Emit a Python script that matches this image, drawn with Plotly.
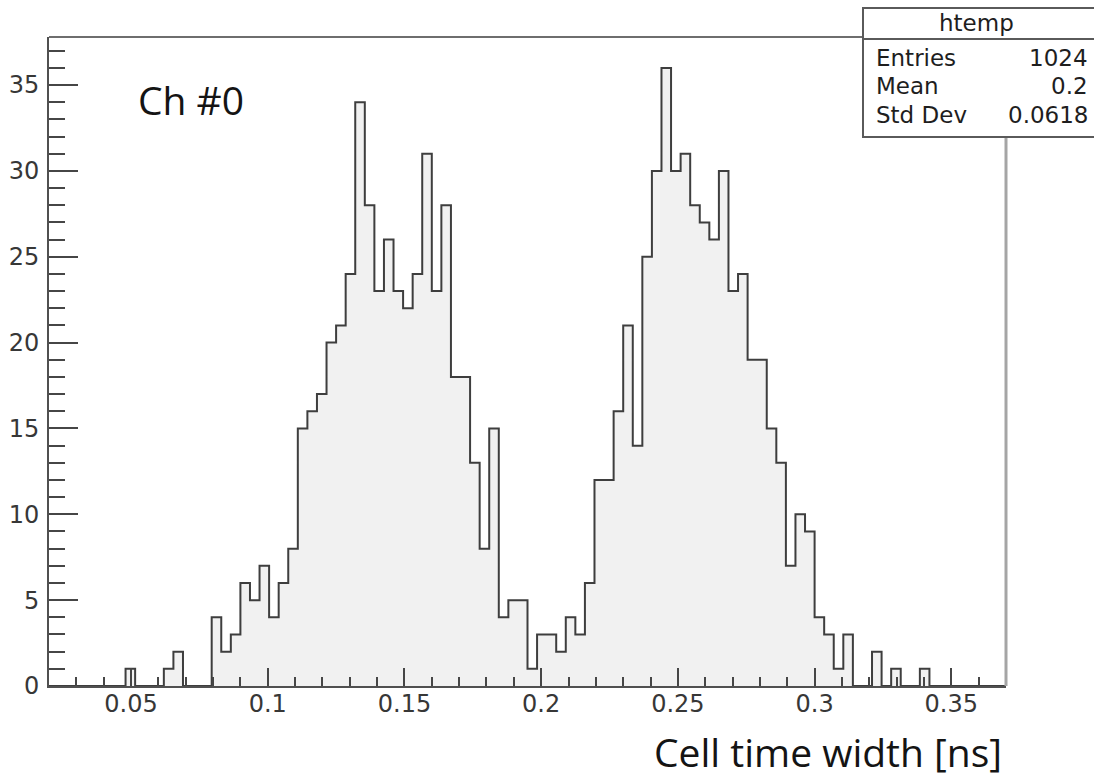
import plotly.graph_objects as go

# Histogram definition: 100 uniform bins on [0.02, 0.37]
x_min = 0.02
x_max = 0.37
n_bins = 100
bin_width = (x_max - x_min) / n_bins

# Bin contents (entries per bin)
counts = [
    0, 0, 0, 0, 0, 0, 0, 0, 1, 0,
    0, 0, 1, 2, 0, 0, 0, 4, 2, 3,
    6, 5, 7, 4, 6, 8, 15, 16, 17, 20,
    21, 24, 34, 28, 23, 26, 23, 22, 24, 31,
    23, 28, 18, 18, 13, 8, 15, 4, 5, 5,
    1, 3, 3, 2, 4, 3, 6, 12, 12, 16,
    21, 14, 25, 30, 36, 30, 31, 28, 27, 26,
    30, 23, 24, 19, 19, 15, 13, 7, 10, 9,
    4, 3, 1, 3, 0, 0, 2, 0, 1, 0,
    0, 1, 0, 0, 0, 0, 0, 0, 0, 0,
]

hist_name = "htemp"
stat_names = ["Entries", "Mean", "Std Dev"]
stat_values = [str(sum(counts)), "0.2", "0.0618"]

x_title = "Cell time width [ns]"
channel_label = "Ch #0"
y_max = 1.05 * max(counts)

# Page geometry
W, H = 1094, 778
ML, MR, MT, MB = 49, 88, 37, 92
PW, PH = W - ML - MR, H - MT - MB


def px(x):
    return (x - ML) / PW


def py(y):
    return (H - MB - y) / PH


edges = [x_min + i * bin_width for i in range(n_bins + 1)]
step_y = counts + [counts[-1]]

fig = go.Figure()
fig.add_trace(go.Scatter(
    x=edges, y=step_y, mode="lines", line_shape="hv",
    line=dict(color="rgb(62,62,62)", width=2),
    fill="tozeroy", fillcolor="rgb(241,241,241)",
    hoverinfo="skip", showlegend=False,
))

tick_font = dict(family="DejaVu Sans", size=24, color="rgb(55,55,55)")
axis_col = "rgb(80,80,80)"
tick_col = "rgb(70,70,70)"

fig.update_layout(
    width=W, height=H,
    margin=dict(l=ML, r=MR, t=MT, b=MB, pad=0, autoexpand=False),
    paper_bgcolor="white", plot_bgcolor="white",
    showlegend=False,
    xaxis=dict(
        range=[x_min, x_max], showgrid=False, zeroline=False,
        automargin=False,
        showline=True, linecolor=axis_col, linewidth=2,
        ticks="inside", ticklen=18, tickwidth=2, tickcolor=tick_col,
        tick0=0, dtick=0.05, tickfont=tick_font, ticklabelstandoff=-5,
        minor=dict(ticks="inside", ticklen=9, tickwidth=2,
                   tickcolor=tick_col, dtick=0.01, tick0=0, showgrid=False),
    ),
    yaxis=dict(
        range=[0, y_max], showgrid=False, zeroline=False,
        automargin=False,
        showline=True, linecolor=axis_col, linewidth=2,
        ticks="inside", ticklen=29, tickwidth=2, tickcolor=tick_col,
        tick0=0, dtick=5, tickfont=tick_font, ticklabelstandoff=3,
        minor=dict(ticks="inside", ticklen=16, tickwidth=2,
                   tickcolor=tick_col, dtick=1, tick0=0, showgrid=False),
    ),
)

# Frame: top and right edges
fig.add_shape(type="line", xref="paper", yref="paper", x0=0, x1=1, y0=1, y1=1,
              line=dict(color="rgb(110,110,110)", width=2))
fig.add_shape(type="line", xref="paper", yref="paper", x0=1, x1=1, y0=0, y1=1,
              line=dict(color="rgb(165,165,165)", width=3))

# Statistics box
bx0, bx1 = px(863), px(1100)
by0, by1 = py(137), py(8)
fig.add_shape(type="rect", xref="paper", yref="paper",
              x0=bx0, x1=bx1, y0=by0, y1=by1,
              line=dict(color="rgb(90,90,90)", width=2), fillcolor="white",
              layer="above")
fig.add_shape(type="line", xref="paper", yref="paper",
              x0=bx0, x1=bx1, y0=py(39), y1=py(39),
              line=dict(color="rgb(90,90,90)", width=2), layer="above")

box_font = dict(family="DejaVu Sans", size=23, color="rgb(30,30,30)")
fig.add_annotation(xref="paper", yref="paper", x=px(976), y=py(23),
                   text=hist_name, showarrow=False, xanchor="center",
                   yanchor="middle", font=box_font)
for i, (name, val) in enumerate(zip(stat_names, stat_values)):
    yc = py(58 + i * 28.3)
    fig.add_annotation(xref="paper", yref="paper", x=px(874), y=yc,
                       text=name, showarrow=False, xanchor="left",
                       yanchor="middle", font=box_font)
    fig.add_annotation(xref="paper", yref="paper", x=px(1090), y=yc,
                       text=val, showarrow=False, xanchor="right",
                       yanchor="middle", font=box_font)

label_font = dict(family="Open Sans", size=39, color="rgb(20,20,20)")
fig.add_annotation(xref="paper", yref="paper", x=px(137), y=py(100),
                   text=channel_label, showarrow=False, xanchor="left",
                   yanchor="middle", font=label_font, borderpad=0)
fig.add_annotation(xref="paper", yref="paper", x=px(1003), y=py(751),
                   text=x_title, showarrow=False, xanchor="right",
                   yanchor="middle", font=label_font, borderpad=0)

fig.write_html("out.html")
